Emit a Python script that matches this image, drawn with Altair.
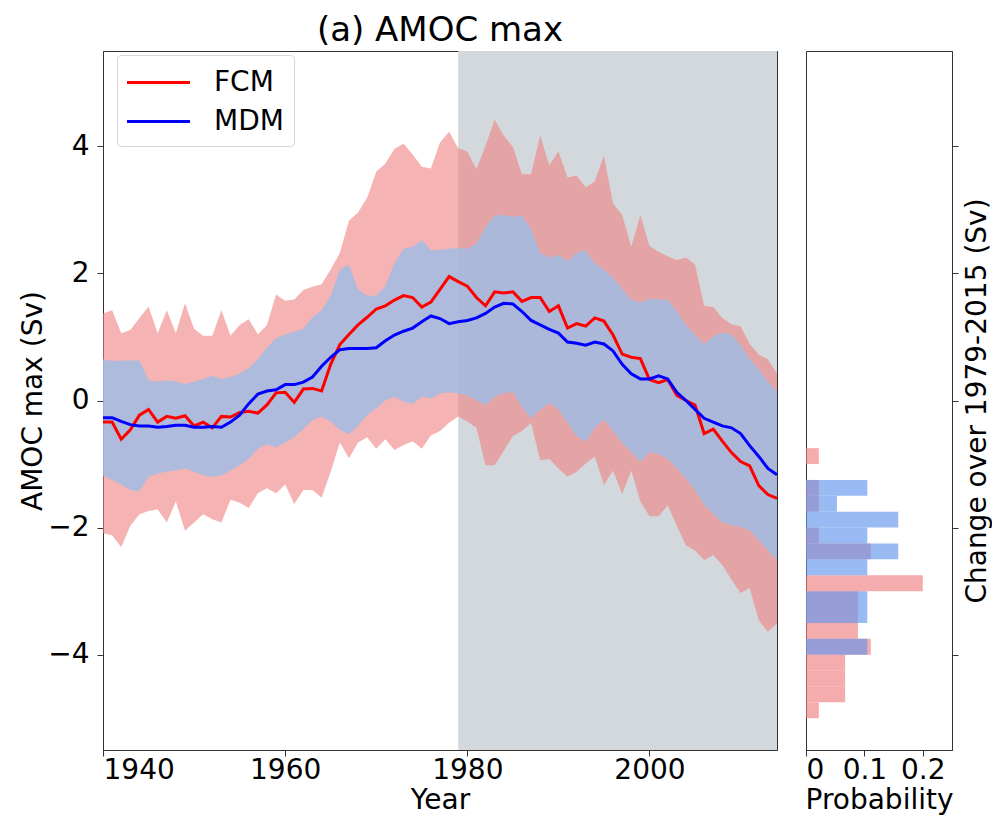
import altair as alt
import pandas as pd

# ---------------- data ----------------
years = list(range(1940, 2015))

fcm_mean = [-0.34, -0.34, -0.61, -0.46, -0.23, -0.14, -0.34, -0.25, -0.28, -0.24,
            -0.40, -0.34, -0.43, -0.25, -0.26, -0.19, -0.17, -0.20, -0.07, 0.12,
            0.13, -0.03, 0.18, 0.19, 0.15, 0.57, 0.88, 1.04, 1.19, 1.31,
            1.44, 1.49, 1.58, 1.65, 1.62, 1.47, 1.55, 1.75, 1.95, 1.87,
            1.80, 1.62, 1.49, 1.71, 1.69, 1.71, 1.56, 1.62, 1.62, 1.40,
            1.49, 1.14, 1.21, 1.17, 1.30, 1.25, 1.03, 0.73, 0.68, 0.66,
            0.33, 0.28, 0.33, 0.08, 0.00, -0.07, -0.52, -0.45, -0.64, -0.82,
            -0.96, -1.03, -1.34, -1.48, -1.54]

fcm_upper = [1.37, 1.42, 1.06, 1.11, 1.30, 1.48, 1.06, 1.42, 1.06, 1.53,
             1.13, 1.02, 1.02, 1.42, 1.02, 1.19, 1.28, 1.04, 1.19, 1.67,
             1.57, 1.59, 1.74, 1.79, 1.83, 2.06, 2.32, 2.83, 2.96, 3.19,
             3.60, 3.73, 3.96, 4.04, 3.87, 3.68, 3.65, 4.06, 4.23, 3.97,
             3.92, 3.64, 4.01, 4.42, 4.17, 3.99, 3.56, 3.56, 4.17, 3.70,
             3.92, 3.51, 3.54, 3.35, 3.45, 3.85, 3.10, 2.92, 2.42, 2.92,
             2.43, 2.34, 2.27, 2.21, 2.25, 2.14, 1.49, 1.47, 1.30, 1.20,
             1.17, 0.89, 0.72, 0.65, 0.42]

fcm_lower = [-2.09, -2.12, -2.31, -1.97, -1.79, -1.74, -1.71, -1.92, -1.59, -2.05,
             -1.92, -1.79, -1.87, -1.92, -1.56, -1.61, -1.69, -1.46, -1.38, -1.46,
             -1.32, -1.63, -1.41, -1.41, -1.53, -1.12, -0.66, -0.91, -0.66, -0.58,
             -0.76, -0.61, -0.78, -0.70, -0.64, -0.76, -0.55, -0.48, -0.35, -0.25,
             -0.33, -0.43, -1.02, -1.02, -0.79, -0.56, -0.48, -0.35, -0.94, -0.92,
             -1.07, -1.20, -1.12, -0.99, -0.88, -1.33, -1.10, -1.47, -1.10, -1.59,
             -1.82, -1.82, -1.65, -1.97, -2.28, -2.36, -2.51, -2.43, -2.59, -2.82,
             -3.03, -2.95, -3.46, -3.64, -3.51]

mdm_mean = [-0.27, -0.27, -0.33, -0.38, -0.40, -0.40, -0.42, -0.41, -0.39, -0.39,
            -0.42, -0.42, -0.41, -0.42, -0.34, -0.23, -0.05, 0.10, 0.15, 0.17,
            0.25, 0.25, 0.29, 0.37, 0.54, 0.68, 0.80, 0.82, 0.82, 0.82,
            0.83, 0.94, 1.03, 1.09, 1.14, 1.24, 1.33, 1.29, 1.21, 1.24,
            1.26, 1.30, 1.37, 1.47, 1.53, 1.52, 1.40, 1.26, 1.19, 1.12,
            1.06, 0.92, 0.90, 0.87, 0.92, 0.89, 0.78, 0.57, 0.42, 0.34,
            0.34, 0.39, 0.34, 0.13, 0.00, -0.14, -0.28, -0.34, -0.40, -0.43,
            -0.52, -0.71, -0.88, -1.07, -1.17]

mdm_upper = [0.65, 0.62, 0.63, 0.63, 0.63, 0.32, 0.30, 0.32, 0.30, 0.26,
             0.30, 0.34, 0.39, 0.34, 0.37, 0.42, 0.51, 0.65, 0.83, 0.98,
             1.04, 1.08, 1.13, 1.31, 1.42, 1.65, 2.06, 2.14, 1.75, 1.65,
             1.65, 1.80, 2.16, 2.39, 2.42, 2.52, 2.37, 2.37, 2.39, 2.40,
             2.39, 2.47, 2.73, 2.91, 2.92, 2.89, 2.91, 2.70, 2.32, 2.25,
             2.29, 2.20, 2.32, 2.36, 2.16, 2.06, 1.93, 1.76, 1.59, 1.54,
             1.60, 1.59, 1.59, 1.40, 1.19, 1.03, 0.89, 1.01, 1.07, 1.04,
             0.87, 0.65, 0.49, 0.30, 0.14]

mdm_lower = [-1.18, -1.25, -1.32, -1.41, -1.43, -1.20, -1.15, -1.12, -1.10, -1.07,
             -1.12, -1.18, -1.20, -1.18, -1.10, -1.02, -0.92, -0.76, -0.69, -0.74,
             -0.66, -0.58, -0.45, -0.31, -0.25, -0.33, -0.46, -0.53, -0.40, -0.23,
             -0.12, 0.00, 0.06, -0.02, -0.05, 0.06, 0.03, 0.11, 0.13, 0.11,
             0.08, 0.00, -0.07, 0.06, 0.12, 0.13, -0.10, -0.28, -0.14, -0.04,
             -0.14, -0.35, -0.56, -0.65, -0.43, -0.30, -0.48, -0.67, -0.81, -0.97,
             -0.81, -0.84, -0.92, -1.07, -1.23, -1.41, -1.64, -1.79, -1.92, -1.96,
             -1.99, -2.05, -2.20, -2.36, -2.51]

shade_start = [1979]
shade_end = [2014]

# histogram of the 1979-2015 change (bins 0.25 Sv)
bin_lo = [-1.00, -1.25, -1.50, -1.75, -2.00, -2.25, -2.50, -2.75, -3.00,
          -3.25, -3.50, -3.75, -4.00, -4.25, -4.50, -4.75, -5.00]
bin_hi = [-0.75, -1.00, -1.25, -1.50, -1.75, -2.00, -2.25, -2.50, -2.75,
          -3.00, -3.25, -3.50, -3.75, -4.00, -4.25, -4.50, -4.75]
fcm_prob = [0.022, 0.0, 0.022, 0.022, 0.0, 0.022, 0.111, 0.0, 0.200,
            0.089, 0.089, 0.089, 0.111, 0.067, 0.067, 0.067, 0.022]
mdm_prob = [0.0, 0.0, 0.105, 0.053, 0.158, 0.105, 0.158, 0.105, 0.0,
            0.105, 0.105, 0.0, 0.105, 0.0, 0.0, 0.0, 0.0]

# ---------------- tables ----------------
band_df = pd.DataFrame({"year": years,
                        "fcm_lo": fcm_lower, "fcm_hi": fcm_upper,
                        "mdm_lo": mdm_lower, "mdm_hi": mdm_upper})
line_df = pd.concat([
    pd.DataFrame({"year": years, "value": fcm_mean, "model": "FCM"}),
    pd.DataFrame({"year": years, "value": mdm_mean, "model": "MDM"}),
])
shade_df = pd.DataFrame({"start": shade_start, "end": shade_end})
hist_df = pd.DataFrame({"lo": bin_lo, "hi": bin_hi,
                        "fcm": fcm_prob, "mdm": mdm_prob})

FONT = "DejaVu Sans"
FS = 28
W, H = 674, 699

x_scale = alt.Scale(domain=[1940, 2014], nice=False, zero=False)
y_scale = alt.Scale(domain=[-5.5, 5.5], nice=False, zero=False)
x_axis = alt.Axis(title="Year", values=[1940, 1960, 1980, 2000], format="d")
y_axis = alt.Axis(title="AMOC max (Sv)", values=[-4, -2, 0, 2, 4])

shade = alt.Chart(shade_df).mark_rect(color="#d3d8dd").encode(
    x=alt.X("start:Q", scale=x_scale, axis=x_axis),
    x2="end:Q",
)

pink = alt.Chart(band_df).mark_area(color="#f08080", opacity=0.6).encode(
    x=alt.X("year:Q", scale=x_scale, axis=x_axis),
    y=alt.Y("fcm_lo:Q", scale=y_scale, axis=y_axis),
    y2="fcm_hi:Q",
)

blue = alt.Chart(band_df).mark_area(color="#9dbde6", opacity=0.8).encode(
    x=alt.X("year:Q", scale=x_scale, axis=x_axis),
    y=alt.Y("mdm_lo:Q", scale=y_scale, axis=y_axis),
    y2="mdm_hi:Q",
)

lines = alt.Chart(line_df).mark_line(strokeWidth=3).encode(
    x=alt.X("year:Q", scale=x_scale, axis=x_axis),
    y=alt.Y("value:Q", scale=y_scale, axis=y_axis),
    color=alt.Color(
        "model:N",
        scale=alt.Scale(domain=["FCM", "MDM"], range=["#ff0000", "#0000ff"]),
        legend=alt.Legend(
            title=None, orient="none", legendX=14, legendY=4,
            symbolType="M-2,0L2,0", symbolSize=992, symbolStrokeWidth=3,
            symbolOffset=14,
            labelFontSize=FS, labelFont=FONT, labelColor="black",
            labelOffset=38, rowPadding=7, padding=10,
            fillColor="white", strokeColor="#d6d6d6", cornerRadius=4,
        ),
    ),
)

main = alt.layer(shade, pink, blue, lines).properties(
    width=W, height=H,
    title=alt.TitleParams("(a) AMOC max", fontSize=34, font=FONT,
                          fontWeight="normal", color="black", offset=3),
)

hx_scale = alt.Scale(domain=[0, 0.25], nice=False, zero=True)
hy_scale = alt.Scale(domain=[-5.5, 5.5], nice=False, zero=False)
hx_axis = alt.Axis(title="Probability", values=[0, 0.1, 0.2], format="~g")
hy_axis = alt.Axis(title="Change over 1979-2015 (Sv)", orient="right",
                   values=[-4, -2, 0, 2, 4], labels=False, titleAngle=270,
                   titleBaseline="top", titlePadding=5)

hist_f = alt.Chart(hist_df).mark_rect(color="#f08080", opacity=0.65).encode(
    x=alt.X("fcm:Q", scale=hx_scale, axis=hx_axis),
    x2=alt.datum(0),
    y=alt.Y("lo:Q", scale=hy_scale, axis=hy_axis),
    y2="hi:Q",
)
hist_m = alt.Chart(hist_df).mark_rect(color="#6495ed", opacity=0.65).encode(
    x=alt.X("mdm:Q", scale=hx_scale, axis=hx_axis),
    x2=alt.datum(0),
    y=alt.Y("lo:Q", scale=hy_scale, axis=hy_axis),
    y2="hi:Q",
)
hist = alt.layer(hist_f, hist_m).properties(width=146, height=H)

chart = alt.hconcat(main, hist, spacing=20).resolve_scale(
    x="independent", y="independent", color="independent"
).configure(
    padding={"left": 11, "top": 5, "right": 0, "bottom": 0},
    font=FONT,
).configure_axis(
    labelFont=FONT, titleFont=FONT, labelFontSize=FS, titleFontSize=FS,
    labelColor="black", titleColor="black", titleFontWeight="normal",
    grid=False, tickSize=6, tickColor="#333", domainColor="#333",
    labelPadding=0, titlePadding=2,
).configure_axisY(labelPadding=8, titlePadding=0).configure_view(
    stroke="#333", strokeWidth=1
)

chart.save("out.html", embed_options={"renderer": "svg", "actions": False})
